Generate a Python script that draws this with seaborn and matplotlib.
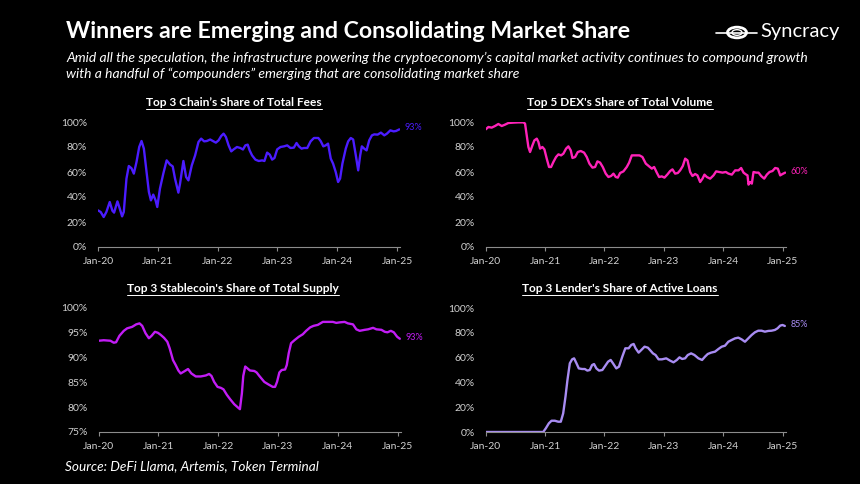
import matplotlib
matplotlib.use("Agg")
import matplotlib.pyplot as plt
import pandas as pd
import seaborn as sns
from matplotlib.patches import Circle
from matplotlib.lines import Line2D

# --- data (decimal years since Jan-20, share in %) ---
fees_x = [0.00, 0.045, 0.095, 0.14, 0.196, 0.241, 0.269, 0.325, 0.364, 0.403, 0.431, 0.476, 0.515,
          0.56, 0.599, 0.644, 0.689, 0.728, 0.767, 0.812, 0.851, 0.885, 0.924, 0.963, 0.991, 1.036,
          1.092, 1.148, 1.204, 1.249, 1.288, 1.344, 1.372, 1.428, 1.473, 1.512, 1.568, 1.624, 1.68,
          1.725, 1.775, 1.82, 1.876, 1.932, 1.971, 2.016, 2.06, 2.1, 2.139, 2.184, 2.228, 2.268,
          2.324, 2.38, 2.424, 2.464, 2.503, 2.536, 2.576, 2.632, 2.688, 2.744, 2.783, 2.828, 2.872,
          2.912, 2.951, 2.996, 3.052, 3.108, 3.164, 3.219, 3.275, 3.32, 3.359, 3.404, 3.443, 3.499,
          3.555, 3.611, 3.684, 3.723, 3.768, 3.807, 3.847, 3.892, 3.931, 3.975, 4.015, 4.048, 4.087,
          4.143, 4.183, 4.227, 4.267, 4.311, 4.351, 4.384, 4.412, 4.451, 4.491, 4.535, 4.58, 4.619,
          4.675, 4.731, 4.787, 4.832, 4.888, 4.944, 4.983, 5.039]
fees_y = [29.3, 28, 24, 28, 36, 29, 27.5, 36.5, 30.7, 24.5, 28, 54.7, 64.8,
          63, 58.7, 68, 80, 84.8, 78.7, 60, 44, 37.3, 41.9, 37.3, 32, 46.7,
          58.7, 69.3, 66, 64.5, 54.7, 43.5, 50.7, 68.8, 56, 53.3, 65.3, 73.3, 84,
          86.7, 84.5, 84.8, 86, 84.5, 83.5, 85.3, 88.8, 90.7, 88, 81.3, 76.5, 78.1,
          80, 79.2, 78, 81.3, 81.9, 77.3, 73.3, 69.9, 68.8, 69.3, 68.8, 75.5, 73.9,
          69.9, 71.2, 78.1, 80, 80.5, 81.3, 79.2, 79.5, 83.2, 80.5, 78.7, 79.2, 79.2,
          84.5, 87.2, 87.2, 84.8, 80.5, 81.3, 82.7, 70.7, 66.7, 60, 52, 54.7, 66.7,
          78.7, 84.5, 87.2, 86, 73.3, 61.3, 73.3, 80.5, 78.7, 77.3, 85.3, 89.3, 90.1,
          89.9, 91.5, 89.3, 90.7, 93.3, 92.5, 92.8, 94.1]

dex_x = [0.0, 0.045, 0.101, 0.157, 0.213, 0.27, 0.326, 0.382, 0.466, 0.551, 0.635, 0.663, 0.691,
         0.719, 0.747, 0.787, 0.82, 0.86, 0.888, 0.916, 0.955, 0.989, 1.028, 1.067, 1.101, 1.14,
         1.185, 1.225, 1.27, 1.309, 1.354, 1.393, 1.433, 1.461, 1.506, 1.551, 1.601, 1.657, 1.702,
         1.747, 1.798, 1.843, 1.882, 1.927, 1.972, 2.022, 2.067, 2.112, 2.152, 2.191, 2.225, 2.264,
         2.32, 2.376, 2.416, 2.461, 2.517, 2.59, 2.64, 2.697, 2.753, 2.798, 2.837, 2.882, 2.921,
         2.966, 3.011, 3.062, 3.107, 3.146, 3.191, 3.236, 3.275, 3.32, 3.36, 3.399, 3.444, 3.483,
         3.528, 3.567, 3.612, 3.652, 3.685, 3.725, 3.781, 3.837, 3.882, 3.933, 3.989, 4.045, 4.09,
         4.146, 4.202, 4.258, 4.303, 4.343, 4.382, 4.41, 4.427, 4.455, 4.483, 4.511, 4.556, 4.596,
         4.64, 4.691, 4.736, 4.781, 4.831, 4.876, 4.921, 4.961, 5.0, 5.045]
dex_y = [94.1, 96, 95.5, 96.8, 98.4, 96.8, 97.9, 99.2, 99.5, 99.7, 99.7, 98.7, 89.3,
         80, 76, 81.3, 85.3, 86.7, 84, 78.7, 80, 78.1, 70.7, 64, 64, 68,
         72, 74.1, 73.3, 74.7, 78.7, 80.5, 77.3, 71.2, 72, 76, 76.8, 75.5, 72,
         66.7, 63.5, 64, 68.5, 67.5, 64, 58.7, 56, 56.8, 58.7, 56, 55.5, 59.2,
         60.5, 64, 67.5, 73.3, 73.3, 73.3, 72, 66.7, 64.5, 62.7, 64, 59.5, 56,
         56.5, 55.5, 58.1, 60.8, 62.1, 58.7, 59.2, 61.3, 64.8, 70.7, 69.3, 60, 56.8,
         58.4, 57.3, 52, 54.7, 57.9, 56, 54.7, 57.3, 60.5, 60, 59.5, 60, 58.7,
         57.9, 61.3, 61.3, 63.2, 59.5, 58.1, 57.3, 49.9, 52, 50.7, 60, 59.5, 59.5,
         56.8, 54.7, 57.9, 60, 60.8, 63.2, 62.7, 57.3, 58.4, 59.5]

stable_x = [0.0, 0.084, 0.196, 0.252, 0.291, 0.347, 0.42, 0.476, 0.56, 0.627, 0.683, 0.728, 0.784,
            0.84, 0.885, 0.941, 0.991, 1.036, 1.092, 1.148, 1.187, 1.243, 1.288, 1.333, 1.372,
            1.428, 1.495, 1.551, 1.624, 1.708, 1.792, 1.848, 1.887, 1.932, 1.988, 2.044, 2.088,
            2.144, 2.2, 2.268, 2.324, 2.363, 2.396, 2.419, 2.452, 2.492, 2.531, 2.604, 2.643,
            2.688, 2.771, 2.839, 2.912, 2.951, 2.984, 3.023, 3.063, 3.119, 3.147, 3.18, 3.219,
            3.275, 3.348, 3.415, 3.471, 3.539, 3.595, 3.667, 3.751, 3.835, 3.919, 3.975, 4.031,
            4.115, 4.171, 4.255, 4.311, 4.367, 4.451, 4.507, 4.591, 4.647, 4.731, 4.787, 4.832,
            4.888, 4.938, 4.994, 5.039]
stable_y = [93.4, 93.5, 93.4, 93.0, 93.1, 94.4, 95.4, 95.9, 96.2, 96.7, 96.9, 96.4, 94.9,
            93.9, 94.4, 95.2, 95.0, 94.6, 94.0, 93.2, 91.9, 89.5, 88.5, 87.4, 86.8,
            87.2, 87.7, 86.8, 86.2, 86.2, 86.4, 86.7, 86.3, 85.1, 84.1, 83.9, 83.6,
            82.5, 81.6, 80.6, 80.0, 79.6, 82.8, 86.3, 88.2, 87.8, 87.4, 87.3, 87.0,
            86.3, 85.1, 84.6, 84.1, 84.1, 85.1, 87.0, 87.5, 87.6, 88.5, 90.9, 92.9,
            93.5, 94.2, 94.7, 95.4, 96.1, 96.4, 96.6, 97.2, 97.2, 97.2, 97.0, 97.1,
            97.2, 96.9, 96.7, 95.7, 95.4, 95.6, 95.7, 96.0, 95.7, 95.6, 95.2, 95.1,
            95.4, 95.1, 94.2, 93.8]

lend_x = [0.0, 0.969, 1.013, 1.064, 1.109, 1.165, 1.221, 1.265, 1.305, 1.344, 1.377, 1.417, 1.456,
          1.489, 1.529, 1.568, 1.624, 1.669, 1.713, 1.753, 1.792, 1.825, 1.864, 1.909, 1.965,
          2.004, 2.061, 2.105, 2.144, 2.2, 2.245, 2.301, 2.352, 2.408, 2.452, 2.492, 2.525, 2.576,
          2.62, 2.676, 2.732, 2.777, 2.817, 2.861, 2.912, 2.968, 3.041, 3.108, 3.164, 3.22, 3.264,
          3.309, 3.359, 3.404, 3.46, 3.516, 3.583, 3.645, 3.695, 3.74, 3.796, 3.863, 3.919, 3.975,
          4.031, 4.087, 4.143, 4.199, 4.255, 4.311, 4.367, 4.423, 4.479, 4.535, 4.591, 4.647,
          4.703, 4.759, 4.815, 4.871, 4.916, 4.961, 5.0, 5.039]
lend_y = [0, 0, 3, 7, 9.1, 9.1, 8.3, 8.3, 15, 28.5, 41.9, 55.4, 58.6,
          59.4, 55.4, 51.3, 50.8, 50.8, 49.5, 50, 54, 54.8, 51.3, 49.5, 50,
          52.7, 56.7, 58.1, 55.4, 51.3, 52.7, 60.8, 67.5, 67.5, 70.2, 71, 67.5, 64,
          66.1, 68.8, 68, 65.6, 63.4, 62.1, 58.6, 58.6, 59.4, 57.5, 56.2, 58.1, 60.2,
          58.9, 59.4, 62.1, 63.4, 62.1, 59.4, 58.1, 60.8, 62.9, 64, 64.8, 66.9, 68.8,
          69.6, 72.8, 74.2, 75.5, 76.1, 74.7, 72.8, 75.5, 78.2, 80.4, 81.7, 81.7,
          80.9, 81.5, 81.7, 82.3, 83.6, 85.8, 86.3, 85.5]

tick_years = [0, 1, 2, 3, 4, 5]
tick_labels = ["Jan-20", "Jan-21", "Jan-22", "Jan-23", "Jan-24", "Jan-25"]

BG = "black"
TXT = "white"
GRAY = "#d0d0d0"

sns.set_theme(style="dark", rc={"axes.facecolor": BG, "figure.facecolor": BG})
plt.rcParams["font.family"] = ["Lato", "DejaVu Sans"]

fig = plt.figure(figsize=(8.6, 4.84), dpi=100)
W, H = 860, 484


def px_axes(left, right, top, bottom):
    return fig.add_axes([left / W, 1 - bottom / H, (right - left) / W, (bottom - top) / H])


panels = [
    ("Top 3 Chain\u2019s Share of Total Fees", fees_x, fees_y, "#4B1CFF", (98, 400, 122, 247), (0, 100), 20, "93%", 234),
    ("Top 5 DEX's Share of Total Volume", dex_x, dex_y, "#FF22B8", (485.7, 785.5, 122, 247), (0, 100), 20, "60%", 620),
    ("Top 3 Stablecoin's Share of Total Supply", stable_x, stable_y, "#C21CF5", (98.7, 400.5, 308, 432), (75, 100), 5, "93%", 233),
    ("Top 3 Lender's Share of Active Loans", lend_x, lend_y, "#A88CF2", (485.7, 785.5, 308, 432), (0, 100), 20, "85%", 620),
]

for title, xs, ys, color, box, ylim, step, end_label, cx in panels:
    ax = px_axes(*box[:4])
    df = pd.DataFrame({"year": xs, "share": ys})
    sns.lineplot(data=df, x="year", y="share", color=color, linewidth=1.7, ax=ax)
    ax.set_xlim(0, 5.05)
    ax.set_ylim(*ylim)
    ax.set_xlabel("")
    ax.set_ylabel("")
    ax.set_facecolor(BG)
    ax.grid(False)
    ax.set_xticks(tick_years)
    ax.set_xticklabels(tick_labels)
    ax.set_yticks(list(range(ylim[0], ylim[1] + 1, step)))
    ax.set_yticklabels([f"{v}%" for v in range(ylim[0], ylim[1] + 1, step)])
    ax.tick_params(axis="x", colors="#8c8c8c", labelcolor=GRAY, labelsize=7.5, length=3, width=0.8,
                   direction="out", pad=4, bottom=True)
    ax.tick_params(axis="y", labelcolor=GRAY, labelsize=7.5, length=0, pad=8)
    for side in ["top", "right", "left"]:
        ax.spines[side].set_visible(False)
    ax.spines["bottom"].set_color("#8c8c8c")
    ax.spines["bottom"].set_linewidth(0.8)
    ax.annotate(end_label, xy=(xs[-1], ys[-1]), xytext=(4, 1), textcoords="offset points",
                color=color, fontsize=6.5, va="center", ha="left", annotation_clip=False)
    # underlined bold panel title
    t = fig.text(cx / W, 1 - (box[2] - 20) / H, title, color=TXT, fontsize=8.6, fontweight="bold",
                 ha="center", va="center")
    fig.canvas.draw()
    bb = t.get_window_extent()
    fig.add_artist(Line2D([bb.x0 / W, bb.x1 / W], [(bb.y0 - 1) / H, (bb.y0 - 1) / H],
                          color=TXT, linewidth=0.7))

# header
fig.text(66 / W, 1 - 32 / H, "Winners are Emerging and Consolidating Market Share", color=TXT,
         fontsize=16.7, fontweight="bold", ha="left", va="center")
fig.text(66 / W, 1 - 58 / H,
         "Amid all the speculation, the infrastructure powering the cryptoeconomy\u2019s capital market "
         "activity continues to compound growth", color=TXT, fontsize=10, style="italic", ha="left", va="center")
fig.text(66 / W, 1 - 74 / H,
         "with a handful of \u201ccompounders\u201d emerging that are consolidating market share",
         color=TXT, fontsize=10, style="italic", ha="left", va="center")
fig.text(65 / W, 1 - 466 / H, "Source: DeFi Llama, Artemis, Token Terminal", color=TXT,
         fontsize=9.8, style="italic", ha="left", va="center")

# logo
fig.add_artist(Circle((737 / W, 1 - 32.5 / H), 9.5 / W, transform=fig.transFigure, fill=False,
                      edgecolor=TXT, linewidth=2.0))
fig.add_artist(Circle((737 / W, 1 - 32.5 / H), 5 / W, transform=fig.transFigure, fill=False,
                      edgecolor=TXT, linewidth=1.0))
fig.add_artist(Line2D([716 / W, 757 / W], [1 - 32.5 / H, 1 - 32.5 / H], color=TXT, linewidth=1.2))
fig.text(760 / W, 1 - 32 / H, "Syncracy", color=TXT, fontsize=14.5, ha="left", va="center")

fig.savefig("out.png", dpi=100, facecolor=BG)
